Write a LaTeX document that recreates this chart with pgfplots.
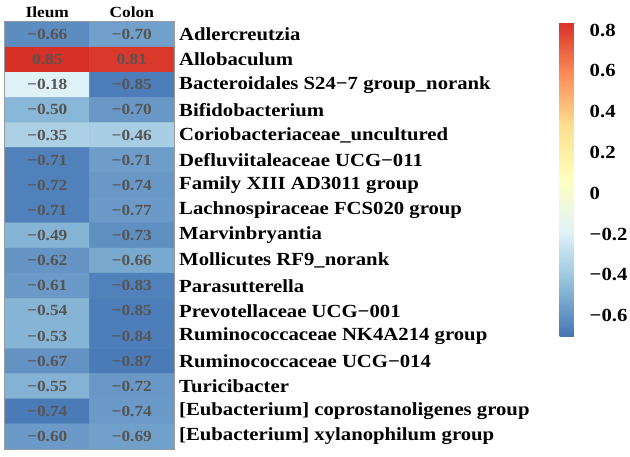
\documentclass[border=0pt]{standalone}
\usepackage{fontspec}
\setmainfont{Liberation Serif}[FakeStretch=1.12]
\usepackage{pgfplots}
\pgfplotsset{compat=1.18}
\usetikzlibrary{calc}
\definecolor{cellgrid}{HTML}{9C9C9C}
\definecolor{numgray}{HTML}{555555}
\begin{document}
\begin{tikzpicture}
\useasboundingbox (0pt,0pt) rectangle (630pt,457pt);
\begin{axis}[
  at={(5pt,8pt)}, anchor=south west,
  scale only axis, width=169pt, height=427pt,
  xmin=-0.5, xmax=1.5, ymin=-0.5, ymax=16.5,
  y dir=reverse, enlargelimits=false,
  colormap={rdylbu}{rgb255=(69,117,180) rgb255=(145,191,219) rgb255=(224,243,248) rgb255=(255,255,191) rgb255=(254,224,144) rgb255=(252,141,89) rgb255=(215,48,39)},
  point meta min=-0.70, point meta max=0.84,
  axis line style={cellgrid, line width=1.2pt},
  major tick length=0pt,
  xtick={0,1}, xticklabels={Ileum,Colon},
  xticklabel pos=upper,
  xticklabel style={font=\fontsize{15.5}{15.5}\selectfont\bfseries, anchor=base, inner sep=0pt, yshift=4pt},
  ytick={0,...,16},
  yticklabels={Adlercreutzia,Allobaculum,Bacteroidales S24−7 group\_norank,Bifidobacterium,Coriobacteriaceae\_uncultured,Defluviitaleaceae UCG−011,Family XIII AD3011 group,Lachnospiraceae FCS020 group,Marvinbryantia,Mollicutes RF9\_norank,Parasutterella,Prevotellaceae UCG−001,Ruminococcaceae NK4A214 group,Ruminococcaceae UCG−014,Turicibacter,[Eubacterium] coprostanoligenes group,[Eubacterium] xylanophilum group},
  yticklabel pos=right,
  yticklabel style={font=\fontsize{18.5}{18.5}\selectfont\bfseries, anchor=west, inner sep=0pt, xshift=5pt},
  extra x ticks={0.5}, extra x tick labels={},
  extra y ticks={0.5,1.5,...,15.5}, extra y tick labels={},
  extra tick style={grid=major, major grid style={cellgrid, line width=1.2pt}},
  colorbar right,
  colorbar style={
    at={($(parent axis.north east)+(377pt,0pt)$)}, anchor=north west,
    scale only axis,
    width=21pt, height=314pt,
    axis line style={draw=none},
    major tick length=0pt,
    ytick={-0.6,-0.4,-0.2,0,0.2,0.4,0.6,0.8},
    yticklabels={−0.6,−0.4,−0.2,0,0.2,0.4,0.6,0.8},
    yticklabel pos=right,
    yticklabel style={font=\fontsize{18.5}{18.5}\selectfont\bfseries, anchor=west, inner sep=0pt, xshift=9pt},
  },
]
\addplot[matrix plot*, mesh/cols=2, mesh/ordering=x varies, point meta=explicit] table[x=x, y=y, meta=m] {
x y m
0 0 -0.62
1 0 -0.55
0 1 0.84
1 1 0.82
0 2 -0.19
1 2 -0.67
0 3 -0.47
1 3 -0.58
0 4 -0.36
1 4 -0.37
0 5 -0.66
1 5 -0.56
0 6 -0.66
1 6 -0.58
0 7 -0.66
1 7 -0.57
0 8 -0.48
1 8 -0.61
0 9 -0.59
1 9 -0.52
0 10 -0.57
1 10 -0.66
0 11 -0.48
1 11 -0.67
0 12 -0.48
1 12 -0.67
0 13 -0.60
1 13 -0.68
0 14 -0.49
1 14 -0.58
0 15 -0.68
1 15 -0.57
0 16 -0.57
1 16 -0.55
};
\addplot[draw=none, mark=none, nodes near coords, point meta=explicit symbolic,
  nodes near coords style={anchor=center, font=\fontsize{15.5}{15.5}\selectfont\bfseries, text=numgray}]
  table[x=x, y=y, meta=v] {
x y v
0 0 −0.66
1 0 −0.70
0 1 0.85
1 1 0.81
0 2 −0.18
1 2 −0.85
0 3 −0.50
1 3 −0.70
0 4 −0.35
1 4 −0.46
0 5 −0.71
1 5 −0.71
0 6 −0.72
1 6 −0.74
0 7 −0.71
1 7 −0.77
0 8 −0.49
1 8 −0.73
0 9 −0.62
1 9 −0.66
0 10 −0.61
1 10 −0.83
0 11 −0.54
1 11 −0.85
0 12 −0.53
1 12 −0.84
0 13 −0.67
1 13 −0.87
0 14 −0.55
1 14 −0.72
0 15 −0.74
1 15 −0.74
0 16 −0.60
1 16 −0.69
};
\end{axis}
\end{tikzpicture}
\end{document}
